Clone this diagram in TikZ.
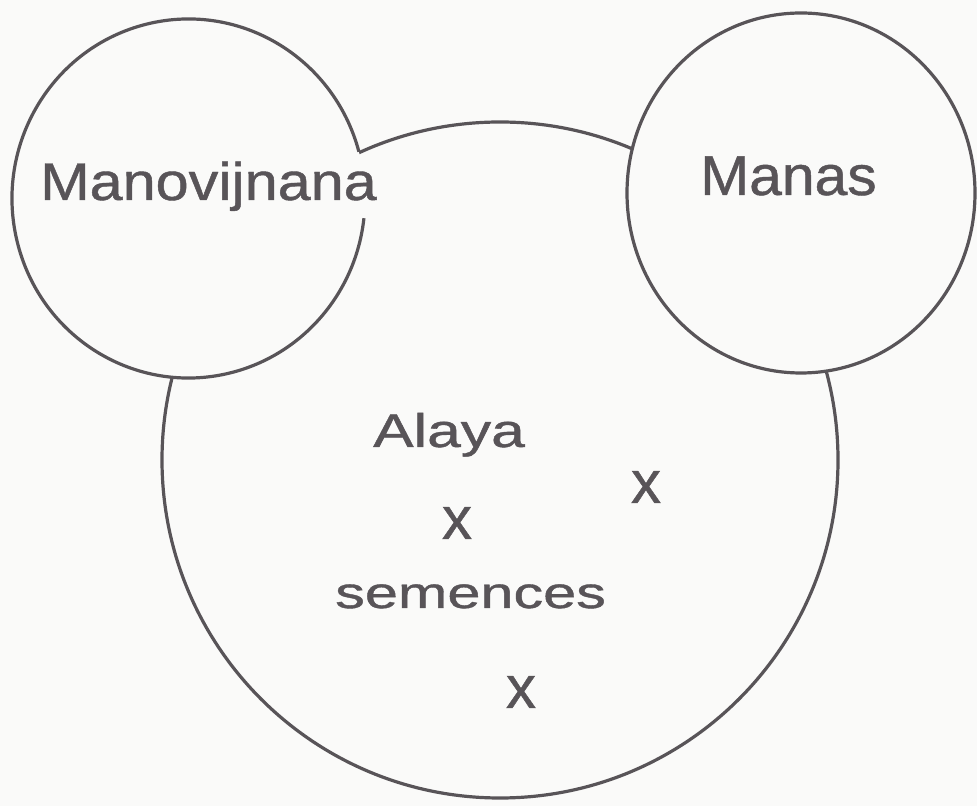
\documentclass[tikz,border=0pt]{standalone}
\usepackage{fontspec}
\usepackage{graphicx}
\setmainfont[FakeBold=0.8]{Liberation Sans}
\definecolor{ink}{RGB}{88,84,88}
\definecolor{paper}{RGB}{250,250,249}
\tikzset{
  outline/.style={draw=ink, line width=3.2pt},
  lbl/.style={inner sep=0pt, text=ink, anchor=base west},
  seed/.style={inner sep=0pt, text=ink, anchor=center, font=\fontsize{60}{64}\selectfont}
}
\begin{document}
\begin{tikzpicture}[x=1pt,y=1pt]
\fill[paper] (0,0) rectangle (977,806);
\useasboundingbox (0,0) rectangle (977,806);
% Alaya big circle, drawn only outside the two small circles
\begin{scope}[even odd rule]
  \clip (-10,-10) rectangle (987,816)
    (188.5,607.5) ellipse (176.5 and 179.5)
    (801,613) ellipse (174 and 180);
  \draw[outline] (500,346) circle (338);
\end{scope}
% Manovijnana circle (broken where the text crosses it)
\draw[outline] ([shift={(15.1:176.5 and 179.5)}]188.5,607.5)
  arc [start angle=15.1, end angle=353.7, x radius=176.5, y radius=179.5];
% Manas circle
\draw[outline] (801,613) ellipse (174 and 180);
% texts
\node[lbl] (mano) at (40,606) {\scalebox{1.12}[1]{\fontsize{53}{60}\selectfont Manovijnana}};
\node[lbl] (manas) at (700,611) {\scalebox{1.05}[1]{\fontsize{56}{60}\selectfont Manas}};
\node[lbl] (alaya) at (373,359) {\scalebox{1.29}[1]{\fontsize{47}{50}\selectfont Alaya}};
\node[lbl] (sem) at (335,198) {\scalebox{1.35}[1]{\fontsize{44}{50}\selectfont semences}};
\node[seed] (x1) at (646,319) {x};
\node[seed] (x2) at (457,283) {x};
\node[seed] (x3) at (521,114) {x};
\end{tikzpicture}
\end{document}
